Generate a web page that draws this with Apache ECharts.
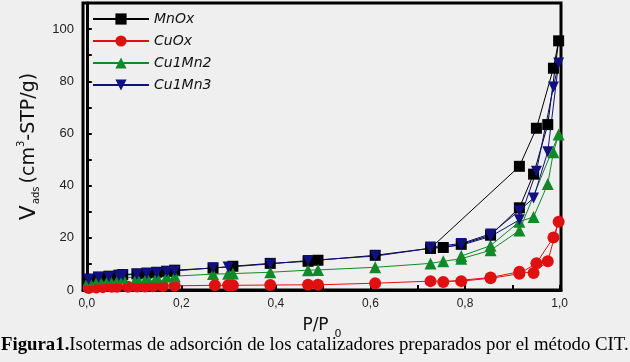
<!DOCTYPE html>
<html lang="es">
<head>
    <meta charset="utf-8"/>
    <script src="https://cdn.jsdelivr.net/npm/echarts@6/dist/echarts.min.js"></script>
</head>
<body style="height: 100%; margin: 0; background: #efefef">
<div id="container" style="width: 630px;height:362px;"></div>
<script type="text/javascript">
    // isotermas: [P/P0, Vads], primero adsorción y luego desorción
    var mnOx = [
        [0.004, 4.2], [0.025, 5.0], [0.047, 5.3], [0.068, 5.7], [0.076, 5.9], [0.106, 6.2], [0.127, 6.5],
        [0.148, 6.8], [0.169, 7.2], [0.186, 7.6], [0.267, 8.4], [0.309, 9.1], [0.388, 10.2], [0.468, 11.0],
        [0.489, 11.4], [0.610, 13.3], [0.727, 16.0], [0.915, 47.4], [0.951, 62.0], [0.987, 85.0], [0.998, 95.5],
        [0.975, 63.4], [0.945, 44.4], [0.915, 31.5], [0.854, 21.0], [0.792, 17.5], [0.754, 16.3], [0.727, 16.0]
    ];
    var cuOx = [
        [0.004, 0.8], [0.020, 1.0], [0.034, 1.1], [0.053, 1.2], [0.064, 1.2], [0.087, 1.2], [0.106, 1.3],
        [0.123, 1.3], [0.140, 1.4], [0.161, 1.5], [0.186, 1.6], [0.271, 1.8], [0.299, 1.8], [0.309, 1.8],
        [0.388, 1.9], [0.468, 2.0], [0.489, 2.0], [0.610, 2.6], [0.727, 3.4], [0.792, 3.4], [0.854, 4.5],
        [0.915, 6.2], [0.951, 10.3], [0.987, 20.1], [0.998, 26.2],
        [0.975, 11.0], [0.945, 6.5], [0.915, 7.0], [0.854, 4.8], [0.754, 3.1]
    ];
    var cu1Mn2 = [
        [0.004, 3.8], [0.025, 4.5], [0.047, 4.6], [0.068, 4.7], [0.076, 4.8], [0.106, 4.9], [0.127, 5.0],
        [0.148, 5.1], [0.169, 5.2], [0.186, 5.3], [0.267, 6.1], [0.299, 6.2], [0.309, 6.3], [0.388, 6.8],
        [0.468, 7.6], [0.489, 7.7], [0.610, 8.7], [0.727, 10.2], [0.754, 11.0], [0.792, 12.0], [0.854, 15.2],
        [0.915, 22.8], [0.998, 59.6],
        [0.987, 52.8], [0.975, 40.6], [0.945, 28.0], [0.915, 26.2], [0.854, 17.0], [0.792, 13.0]
    ];
    var cu1Mn3 = [
        [0.004, 4.0], [0.025, 4.8], [0.047, 5.1], [0.068, 5.5], [0.076, 5.7], [0.106, 6.0], [0.127, 6.3],
        [0.148, 6.6], [0.169, 7.0], [0.186, 7.3], [0.267, 8.5], [0.299, 8.8], [0.388, 10.0], [0.468, 11.3],
        [0.610, 13.0], [0.727, 16.0], [0.792, 17.2], [0.854, 20.5], [0.915, 26.9], [0.951, 45.5],
        [0.987, 77.8], [0.998, 87.0],
        [0.975, 53.0], [0.945, 35.3], [0.915, 30.4], [0.854, 21.5], [0.792, 17.8], [0.727, 16.5]
    ];
    var seriesNames = ['MnOx', 'CuOx', 'Cu1Mn2', 'Cu1Mn3'];
    var xTicks = [0, 0.1, 0.2, 0.3, 0.4, 0.5, 0.6, 0.7, 0.8, 0.9, 1.0];
    var xLabels = [0, 0.2, 0.4, 0.6, 0.8, 1.0];

    var myChart = echarts.init(document.getElementById('container'));

    function serie(name, data, color, symbol, size) {
        return {
            name: name,
            type: 'line',
            data: data,
            symbol: symbol,
            symbolSize: size,
            itemStyle: {color: color},
            lineStyle: {color: color, width: 1},
            animation: false
        };
    }

    var option = {
        backgroundColor: '#efefef',
        grid: {
            left: 83, right: 69, top: 3, bottom: 72,
            show: true, borderColor: '#000', borderWidth: 3, backgroundColor: 'transparent'
        },
        legend: {
            data: seriesNames,
            orient: 'vertical',
            left: 87, top: 7,
            itemWidth: 56, itemHeight: 14, itemGap: 8,
            textStyle: {fontFamily: 'DejaVu Sans', fontStyle: 'italic', fontSize: 14, color: '#111'}
        },
        xAxis: {
            type: 'value',
            min: -0.008, max: 1.003,
            name: '{a|P/P}{s|0}',
            nameLocation: 'middle',
            nameGap: 27,
            nameTextStyle: {
                rich: {
                    a: {fontFamily: 'DejaVu Sans', fontSize: 17, color: '#111', verticalAlign: 'top'},
                    s: {fontFamily: 'DejaVu Sans', fontSize: 11, color: '#111', verticalAlign: 'bottom', padding: [12, 0, 0, 6]}
                }
            },
            axisLine: {show: true, lineStyle: {color: '#000', width: 3}},
            axisTick: {show: true, inside: true, length: 5, lineStyle: {width: 2, color: '#000'}, customValues: xTicks},
            axisLabel: {
                customValues: xLabels,
                fontFamily: 'Liberation Sans', fontSize: 12, color: '#222', margin: 8,
                formatter: function (v) { return v.toFixed(1).replace('.', ','); }
            },
            splitLine: {show: false}
        },
        yAxis: {
            type: 'value',
            min: 0, max: 110, interval: 10,
            name: '{v|V}{s|ads}{a|(cm}{p|3}{a|-STP/g)}',
            nameLocation: 'middle',
            nameRotate: 90,
            nameGap: 33,
            nameTextStyle: {
                rich: {
                    v: {fontFamily: 'DejaVu Sans', fontSize: 22, color: '#111'},
                    s: {fontFamily: 'DejaVu Sans', fontSize: 10, color: '#111', verticalAlign: 'bottom', padding: [15, 3, 0, 1]},
                    a: {fontFamily: 'DejaVu Sans', fontSize: 19, color: '#111'},
                    p: {fontFamily: 'DejaVu Sans', fontSize: 10, color: '#111', verticalAlign: 'top', padding: [0, 0, 15, 0]}
                }
            },
            axisLine: {show: true, lineStyle: {color: '#000', width: 3}},
            axisTick: {show: true, inside: true, length: 5, lineStyle: {width: 2, color: '#000'}},
            axisLabel: {
                fontFamily: 'Liberation Sans', fontSize: 13, color: '#222', margin: 9,
                showMaxLabel: false,
                formatter: function (v) { return v % 20 === 0 ? String(v) : ''; }
            },
            splitLine: {show: false}
        },
        graphic: [{
            type: 'text',
            left: 1, top: 336,
            style: {
                text: '{b|Figura1.}{r|Isotermas de adsorción de los catalizadores preparados por el método CIT.}',
                rich: {
                    b: {fontFamily: 'Liberation Serif', fontWeight: 'bold', fontSize: 18.8, fill: '#000'},
                    r: {fontFamily: 'Liberation Serif', fontSize: 18.8, fill: '#000'}
                }
            }
        }],
        series: [
            serie('MnOx', mnOx, '#000000', 'rect', 11),
            serie('CuOx', cuOx, '#e01010', 'circle', 12),
            serie('Cu1Mn2', cu1Mn2, '#108a28', 'triangle', 12),
            serie('Cu1Mn3', cu1Mn3, '#101080', 'path://M0,0 L10,0 L5,9 Z', 11)
        ]
    };

    myChart.setOption(option);
</script>
</body>
</html>
